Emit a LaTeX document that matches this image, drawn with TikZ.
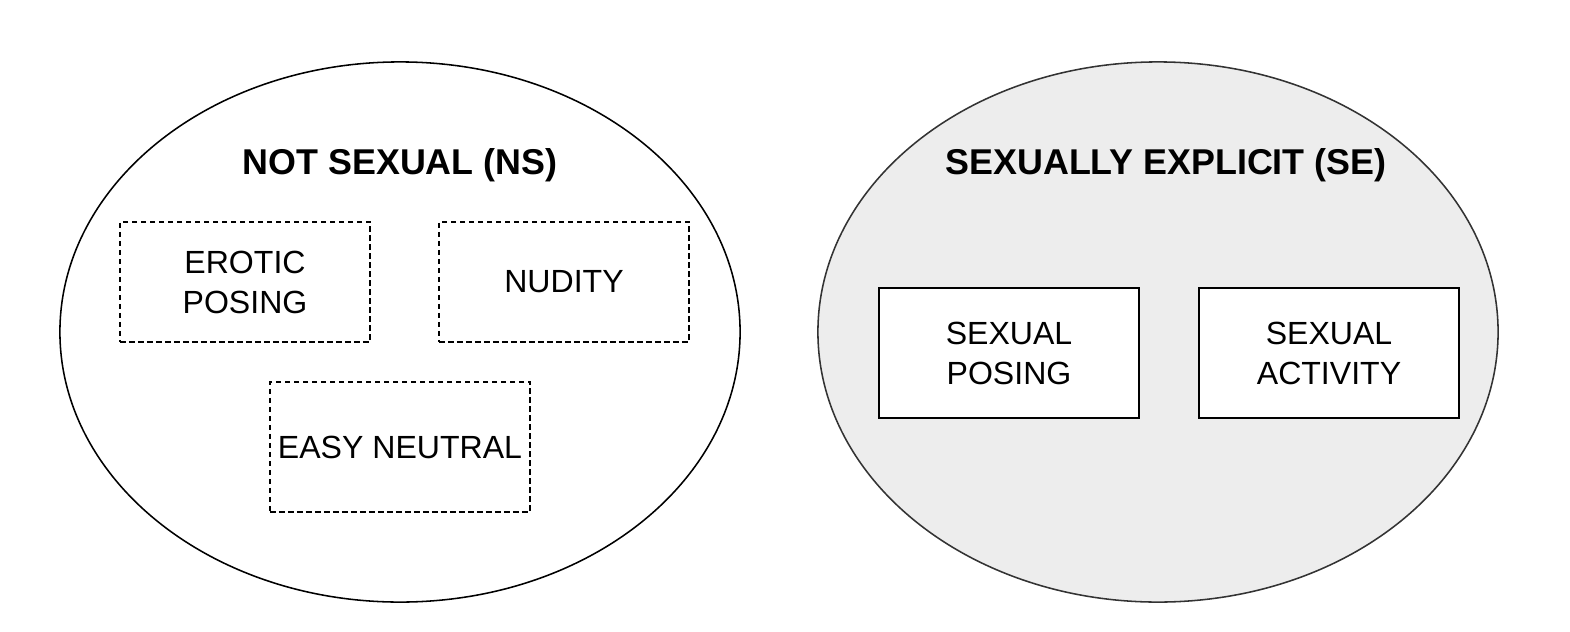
\documentclass[tikz,border=0pt]{standalone}
\usepackage{fontspec}
\setmainfont{Liberation Sans}
\usepackage{tikz}
\usetikzlibrary{positioning,shapes.geometric}

\begin{document}
\begin{tikzpicture}[
    x=0.025cm, y=-0.025cm,
    group/.style={draw=#1, ellipse, line width=1.1pt, minimum width=17cm, minimum height=13.5cm, inner sep=0pt},
    title/.style={font=\fontsize{25.5}{30}\selectfont\bfseries},
    catbox/.style={draw, line width=1.1pt, minimum width=#1, minimum height=3cm,
                   font=\fontsize{22.8}{28.5}\selectfont, align=center, inner sep=0pt},
    catbox/.default=6.25cm,
    soft/.style={catbox=#1, line width=1.2pt, dash pattern=on 4pt off 2.4pt},
    soft/.default=6.25cm,
  ]
  \useasboundingbox (0,0) rectangle (1570,631);

  % the two groups
  \node[group=black] (ns) at (400,332) {};
  \node[group=black!80, fill=black!7] (se) at (1158,332) {};

  \node[title] (nst) at (400,165) {NOT SEXUAL (NS)};
  \node[title] (set) at (1166,165) {SEXUALLY EXPLICIT (SE)};

  % not sexual
  \node[soft] (ero) at (245,282) {EROTIC\\POSING};
  \node[soft] (nud) at (564,282) {NUDITY};
  \node[soft=6.5cm, minimum height=3.25cm] (easy) at (400,447) {EASY NEUTRAL};

  % sexually explicit
  \node[catbox=6.5cm, minimum height=3.25cm, fill=white] (pos) at (1009,353) {SEXUAL\\POSING};
  \node[catbox=6.5cm, minimum height=3.25cm, fill=white] (act) at (1329,353) {SEXUAL\\ACTIVITY};
\end{tikzpicture}
\end{document}
